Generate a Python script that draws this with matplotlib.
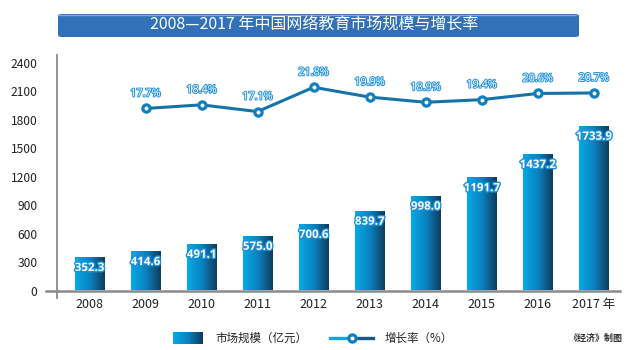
import matplotlib
matplotlib.use("Agg")
import matplotlib.pyplot as plt
import numpy as np
from matplotlib.patches import FancyBboxPatch, Rectangle
from matplotlib.lines import Line2D
from matplotlib.colors import LinearSegmentedColormap
import matplotlib.patheffects as pe

plt.rcParams['font.family'] = ['Noto Sans CJK SC', 'DejaVu Sans']

years = ['2008', '2009', '2010', '2011', '2012', '2013', '2014', '2015', '2016', '2017 年']
market = [352.3, 414.6, 491.1, 575.0, 700.6, 839.7, 998.0, 1191.7, 1437.2, 1733.9]
growth_years = [1, 2, 3, 4, 5, 6, 7, 8, 9]
growth = [17.7, 18.4, 17.1, 21.8, 19.9, 18.9, 19.4, 20.6, 20.7]
yticks = [0, 300, 600, 900, 1200, 1500, 1800, 2100, 2400]

title = '2008—2017 年中国网络教育市场规模与增长率'
legend_bar = '市场规模（亿元）'
legend_line = '增长率（%）'
source = '《经济》制图'

W, H = 626, 350
fig = plt.figure(figsize=(W / 100, H / 100), dpi=100)


def fx(x):
    return x / W


def fy(y):
    return (H - y) / H


cmap = LinearSegmentedColormap.from_list('bar', ['#05aae6', '#0a82bf', '#0e3a5e'])
grad = np.linspace(0, 1, 256).reshape(1, -1)

# banner
banner = FancyBboxPatch((fx(58), fy(37)), fx(579) - fx(58), fy(14) - fy(37),
                        boxstyle='round,pad=0,rounding_size=0.006',
                        transform=fig.transFigure, facecolor='#3271b8',
                        edgecolor='none', zorder=0)
fig.patches.append(banner)
fig.add_artist(Line2D([fx(58), fx(576)], [fy(14.5), fy(14.5)], color='#7aa6d8',
                      lw=1, transform=fig.transFigure))
fig.text(fx(314), fy(25.5), title, color='white', fontsize=11.5,
         ha='center', va='center')

# main axes
left, right, bottom, top = 57, 620, 290.5, 55
ax = fig.add_axes([fx(left), fy(bottom), fx(right) - fx(left), (bottom - top) / H])
ax.set_xlim(-0.58, 9.47)
ax.set_ylim(0, 2479)
for s in ax.spines.values():
    s.set_visible(False)
ax.set_yticks(yticks)
ax.set_yticklabels([str(v) for v in yticks])
ax.set_xticks(range(len(years)))
ax.set_xticklabels(years)
ax.tick_params(axis='y', length=0, pad=14, labelsize=8.7, labelcolor='#222222')
ax.tick_params(axis='x', length=0, pad=5.5, labelsize=9, labelcolor='#222222')
ax.patch.set_visible(False)

# axis lines
ax.add_line(Line2D([-0.02, 0.0], [0, 0], transform=ax.transAxes, color='#8a8a8a',
                   lw=1.8, clip_on=False))
ax.add_line(Line2D([0, 1], [0, 0], transform=ax.transAxes, color='#8a8a8a',
                   lw=1.8, clip_on=False, zorder=5))
ax.add_line(Line2D([0, 0], [-0.03, 1], transform=ax.transAxes, color='#8a8a8a',
                   lw=1.3, clip_on=False))

bw = 0.52
x = np.arange(len(market))
bars = ax.bar(x, market, width=bw, color='none', edgecolor='none')
for xi, b, v in zip(x, bars, market):
    im = ax.imshow(grad, cmap=cmap, aspect='auto',
                   extent=[xi - bw / 2, xi + bw / 2, 0, v], zorder=2)
    im.set_clip_path(b)
    ax.annotate(f'{v:.1f}', (xi, v), xytext=(0, -7.5), textcoords='offset points',
                ha='center', va='center', color='white', fontsize=8.3,
                fontweight='bold', fontfamily=['Open Sans', 'DejaVu Sans'], zorder=6,
                path_effects=[pe.withStroke(linewidth=2, foreground='#1c8fd6')])
ax.set_xlim(-0.58, 9.47)
ax.set_ylim(0, 2479)

# secondary axis
ax2 = ax.twinx()
ax2.set_ylim(-17.5, 28.04)
ax2.axis('off')
ax2.plot(growth_years, growth, color='#1673a8', lw=2.2, zorder=3,
         solid_capstyle='round')
ax2.plot(growth_years, growth, ls='none', marker='o', markersize=5.2,
         markerfacecolor='white', markeredgecolor='#0f7fc0', mew=2.3, zorder=4)
for xi, g in zip(growth_years, growth):
    ax2.annotate(f'{g:.1f}%', (xi, g), xytext=(0, 10.5), textcoords='offset points',
                 ha='center', va='center', color='white', fontsize=7.8,
                 fontfamily=['Open Sans', 'DejaVu Sans'],
                 path_effects=[pe.withStroke(linewidth=1.5, foreground='#2a97e0')])

# legend
lax = fig.add_axes([fx(173), fy(344), fx(203) - fx(173), (344 - 332) / H])
lax.imshow(grad, cmap=cmap, aspect='auto')
lax.axis('off')
fig.text(fx(215), fy(338), legend_bar, fontsize=8.3, color='#222222',
         ha='left', va='center')
fig.add_artist(Line2D([fx(330), fx(352)], [fy(338), fy(338)], color='#1aa0e0',
                      lw=2.4, transform=fig.transFigure))
fig.add_artist(Line2D([fx(352), fx(373)], [fy(338), fy(338)], color='#155a88',
                      lw=2.4, transform=fig.transFigure))
fig.add_artist(Line2D([fx(352)], [fy(338)], marker='o', markersize=5.2,
                      markerfacecolor='white', markeredgecolor='#0f7fc0', mew=2.3,
                      transform=fig.transFigure))
fig.text(fx(385), fy(338), legend_line, fontsize=8.3, color='#222222',
         ha='left', va='center')
fig.text(fx(568), fy(338), source, fontsize=6.5, color='#333333', fontweight='bold',
         ha='left', va='center')

fig.savefig('out.png', dpi=100)
